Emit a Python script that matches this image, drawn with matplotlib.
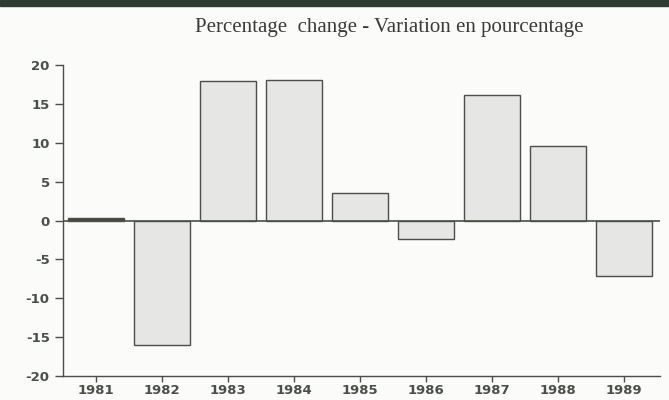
import matplotlib
matplotlib.use("Agg")
import matplotlib.pyplot as plt
from matplotlib.patches import Rectangle

years = ["1981", "1982", "1983", "1984", "1985", "1986", "1987", "1988", "1989"]
pct_change = [0.3, -16.0, 17.9, 18.1, 3.5, -2.4, 16.1, 9.6, -7.2]
y_ticks = [-20, -15, -10, -5, 0, 5, 10, 15, 20]

ink = "#4a4f4a"
plt.rcParams["axes.unicode_minus"] = False

fig = plt.figure(figsize=(6.69, 4.0), dpi=100, facecolor="#fbfbfa")
ax = fig.add_axes([0.094, 0.06, 0.893, 0.7775])
ax.set_facecolor("#fbfbfa")

x = range(len(years))
colors = ["#3c423c"] + ["#e6e6e4"] * (len(years) - 1)
ax.bar(x, pct_change, width=0.85, color=colors, edgecolor=ink, linewidth=1.0, zorder=2)
ax.axhline(0, color=ink, linewidth=1.2, zorder=3)

ax.set_xlim(-0.5, 8.55)
ax.set_ylim(-20, 20)
ax.set_yticks(y_ticks)
ax.set_xticks(list(x))
ax.set_xticklabels(years)

for side in ("top", "right"):
    ax.spines[side].set_visible(False)
for side in ("left", "bottom"):
    ax.spines[side].set_color(ink)
    ax.spines[side].set_linewidth(1.0)

ax.tick_params(axis="both", colors=ink, labelsize=9.5, length=6, width=1.0)
ax.tick_params(axis="x", length=4, pad=2)
for lab in ax.get_xticklabels() + ax.get_yticklabels():
    lab.set_fontweight("bold")
    lab.set_fontfamily("DejaVu Sans")

fig.text(0.582, 0.932, "Percentage  change - Variation en pourcentage",
         ha="center", va="center", fontsize=15, family="Liberation Serif", color="#3a3a3a")

# dark scan edge along the top
fig.patches.append(Rectangle((0, 0.985), 1, 0.015, transform=fig.transFigure,
                             color="#2f3a33", zorder=0))

fig.savefig("out.png", dpi=100, facecolor=fig.get_facecolor())
